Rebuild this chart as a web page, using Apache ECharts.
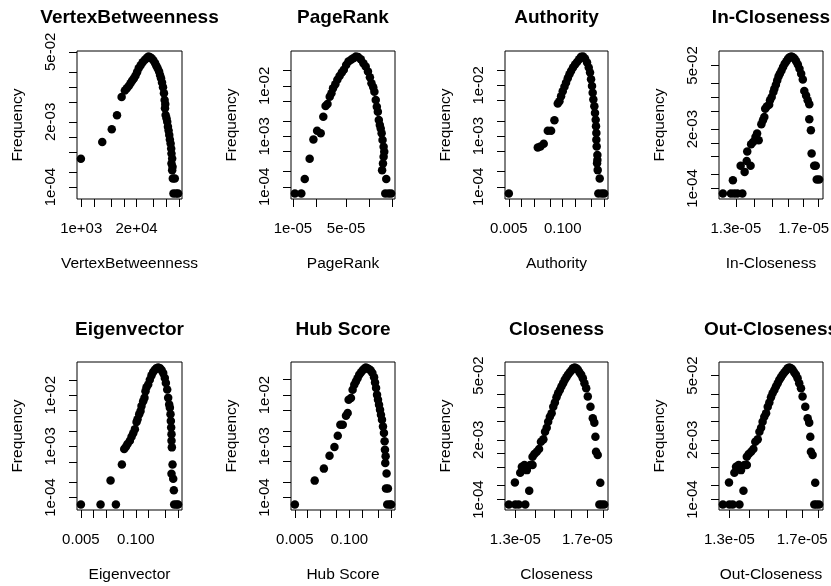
<!DOCTYPE html>
<html><head><meta charset="utf-8">
<script src="https://cdn.jsdelivr.net/npm/echarts@6/dist/echarts.min.js"></script>
<style>html,body{margin:0;padding:0;background:#fff}#c{width:831px;height:586px}</style>
</head><body><div id="c"></div>
<script>
// ---------- data (value, frequency) ----------
const vertexBetweenness = [[982,3.68e-4],[3120,7.93e-4],[5220,1.42e-3],[6930,2.71e-3],[8890,6.30e-3],[10600,8.43e-3],[11800,9.38e-3],[13100,1.04e-2],[14400,1.18e-2],[15700,1.32e-2],[17200,1.47e-2],[18800,1.66e-2],[20500,1.96e-2],[22400,2.36e-2],[24900,2.71e-2],[27700,3.11e-2],[31400,3.46e-2],[34900,3.79e-2],[38200,4.04e-2],[41700,3.91e-2],[45600,3.68e-2],[49900,3.36e-2],[54500,2.97e-2],[58500,2.62e-2],[62800,2.32e-2],[67500,2.02e-2],[71100,1.73e-2],[75000,1.49e-2],[79100,1.22e-2],[83400,9.82e-3],[87900,7.45e-3],[91200,5.48e-3],[94400,4.56e-3],[92900,3.73e-3],[96200,2.75e-3],[101000,2.36e-3],[105000,2.02e-3],[109000,1.61e-3],[113000,1.34e-3],[117000,1.09e-3],[121000,8.95e-4],[126000,7.45e-4],[130000,5.92e-4],[132000,4.70e-4],[137000,3.73e-4],[132000,2.97e-4],[140000,2.55e-4],[137000,2.18e-4],[142000,1.49e-4],[158000,1.49e-4],[147000,7.45e-5],[170000,7.45e-5],[189000,7.45e-5]];

const pageRank = [[1.06e-5,7.4e-5],[1.29e-5,7.4e-5],[1.43e-5,1.44e-4],[1.66e-5,3.60e-4],[1.86e-5,8.71e-4],[2.08e-5,1.30e-3],[2.32e-5,1.15e-3],[2.51e-5,2.46e-3],[2.69e-5,4.01e-3],[2.85e-5,4.39e-3],[3.05e-5,6.14e-3],[3.21e-5,7.15e-3],[3.37e-5,8.99e-3],[3.61e-5,1.08e-2],[3.84e-5,1.32e-2],[4.11e-5,1.58e-2],[4.40e-5,1.84e-2],[4.67e-5,2.08e-2],[5.01e-5,2.61e-2],[5.37e-5,3.04e-2],[5.81e-5,3.29e-2],[6.22e-5,3.55e-2],[6.73e-5,3.83e-2],[7.21e-5,3.72e-2],[7.81e-5,3.39e-2],[8.45e-5,2.82e-2],[9.06e-5,2.42e-2],[9.71e-5,1.93e-2],[1.03e-4,1.49e-2],[1.08e-4,1.13e-2],[1.14e-4,9.42e-3],[1.18e-4,7.71e-3],[1.23e-4,5.27e-3],[1.27e-4,3.88e-3],[1.31e-4,3.09e-3],[1.35e-4,2.11e-3],[1.39e-4,1.68e-3],[1.43e-4,1.44e-3],[1.47e-4,1.15e-3],[1.51e-4,8.45e-4],[1.56e-4,6.24e-4],[1.59e-4,4.96e-4],[1.56e-4,3.94e-4],[1.53e-4,2.91e-4],[1.49e-4,2.14e-4],[1.69e-4,1.44e-4],[1.64e-4,7.4e-5],[1.81e-4,7.4e-5],[1.96e-4,7.4e-5]];

const authority = [[0.005,7.4e-5],[0.025,5.96e-4],[0.029,6.24e-4],[0.0348,7.05e-4],[0.0436,1.28e-3],[0.0524,1.28e-3],[0.063,2.05e-3],[0.0759,4.39e-3],[0.0832,4.89e-3],[0.0912,6.14e-3],[0.100,7.71e-3],[0.110,9.42e-3],[0.120,1.13e-2],[0.132,1.38e-2],[0.145,1.66e-2],[0.159,1.93e-2],[0.177,2.25e-2],[0.198,2.58e-2],[0.222,2.91e-2],[0.248,3.29e-2],[0.277,3.66e-2],[0.309,3.72e-2],[0.345,3.39e-2],[0.386,2.82e-2],[0.424,2.25e-2],[0.456,1.79e-2],[0.482,1.32e-2],[0.509,9.71e-3],[0.528,7.15e-3],[0.548,5.27e-3],[0.579,3.88e-3],[0.601,2.86e-3],[0.624,2.11e-3],[0.635,1.56e-3],[0.647,1.15e-3],[0.647,8.45e-4],[0.659,6.24e-4],[0.685,4.26e-4],[0.685,3.39e-4],[0.673,2.91e-4],[0.698,2.14e-4],[0.780,1.47e-4],[0.724,7.4e-5],[0.871,7.4e-5],[1.0,7.4e-5]];

const inCloseness = [[1.235e-5,7.74e-5],[1.275e-5,7.74e-5],[1.292e-5,7.74e-5],[1.308e-5,7.74e-5],[1.334e-5,7.74e-5],[1.285e-5,1.52e-4],[1.325e-5,3.13e-4],[1.346e-5,2.31e-4],[1.357e-5,4.02e-4],[1.378e-5,3.13e-4],[1.360e-5,6.5e-4],[1.381e-5,9.31e-4],[1.392e-5,1.05e-3],[1.405e-5,1.35e-3],[1.414e-5,1.60e-3],[1.423e-5,1.14e-3],[1.438e-5,2.55e-3],[1.447e-5,3.13e-3],[1.455e-5,3.70e-3],[1.460e-5,5.62e-3],[1.469e-5,6.32e-3],[1.483e-5,6.89e-3],[1.488e-5,8.57e-3],[1.498e-5,1.01e-2],[1.508e-5,1.30e-2],[1.514e-5,1.54e-2],[1.523e-5,1.89e-2],[1.531e-5,2.35e-2],[1.539e-5,2.87e-2],[1.547e-5,3.29e-2],[1.557e-5,3.89e-2],[1.567e-5,4.60e-2],[1.577e-5,5.43e-2],[1.588e-5,6.22e-2],[1.598e-5,7.00e-2],[1.608e-5,7.60e-2],[1.619e-5,7.87e-2],[1.629e-5,7.60e-2],[1.640e-5,7.00e-2],[1.650e-5,6.22e-2],[1.661e-5,5.26e-2],[1.672e-5,4.23e-2],[1.683e-5,3.29e-2],[1.694e-5,2.47e-2],[1.704e-5,1.37e-2],[1.716e-5,1.10e-2],[1.727e-5,8.57e-3],[1.738e-5,7.00e-3],[1.738e-5,3.29e-3],[1.749e-5,1.89e-3],[1.754e-5,5.82e-4],[1.772e-5,3.13e-4],[1.783e-5,3.13e-4],[1.790e-5,1.57e-4],[1.807e-5,1.57e-4]];

const eigenvector = [[0.005,7.32e-5],[0.0146,7.32e-5],[0.0337,7.32e-5],[0.0252,2.16e-4],[0.0467,4.42e-4],[0.0530,8.87e-4],[0.0581,9.86e-4],[0.0635,1.11e-3],[0.0721,1.29e-3],[0.0791,1.54e-3],[0.0865,1.81e-3],[0.0948,2.16e-3],[0.1038,3.00e-3],[0.1096,3.38e-3],[0.120,4.23e-3],[0.129,4.90e-3],[0.136,6.12e-3],[0.149,7.66e-3],[0.160,8.87e-3],[0.169,1.19e-2],[0.179,1.43e-2],[0.196,1.61e-2],[0.214,2.01e-2],[0.235,2.44e-2],[0.257,2.83e-2],[0.282,3.14e-2],[0.308,3.38e-2],[0.338,3.48e-2],[0.370,3.38e-2],[0.406,3.09e-2],[0.444,2.70e-2],[0.485,2.16e-2],[0.513,1.73e-2],[0.552,1.29e-2],[0.582,8.87e-3],[0.615,6.59e-3],[0.638,5.69e-3],[0.661,4.23e-3],[0.673,3.14e-3],[0.685,2.33e-3],[0.698,1.73e-3],[0.698,1.29e-3],[0.711,9.57e-4],[0.738,4.42e-4],[0.698,2.92e-4],[0.766,2.33e-4],[0.793,1.39e-4],[0.807,7.32e-5],[0.917,7.32e-5],[1.0,7.32e-5]];

const hubScore = [[0.005,7.31e-5],[0.0149,2.14e-4],[0.0247,3.67e-4],[0.0337,6.58e-4],[0.0442,9.70e-4],[0.0530,1.61e-3],[0.0612,2.64e-3],[0.0697,2.64e-3],[0.0834,3.96e-3],[0.0914,4.46e-3],[0.0964,8.11e-3],[0.1096,8.75e-3],[0.120,1.27e-2],[0.1315,1.59e-2],[0.1439,1.85e-2],[0.1574,2.14e-2],[0.1726,2.49e-2],[0.1888,2.77e-2],[0.207,3.03e-2],[0.2265,3.26e-2],[0.248,3.46e-2],[0.2716,3.36e-2],[0.297,3.21e-2],[0.326,3.03e-2],[0.356,2.69e-2],[0.391,2.24e-2],[0.412,1.77e-2],[0.436,1.37e-2],[0.460,1.01e-2],[0.485,8.11e-3],[0.513,6.48e-3],[0.542,5.18e-3],[0.571,4.14e-3],[0.604,3.31e-3],[0.638,2.45e-3],[0.673,1.82e-3],[0.698,1.25e-3],[0.711,8.61e-4],[0.738,6.38e-4],[0.724,4.73e-4],[0.778,2.94e-4],[0.752,1.50e-4],[0.837,1.50e-4],[0.807,7.31e-5],[0.933,7.31e-5],[1.0,7.31e-5]];

const closeness = [[1.269e-5,7.8e-5],[1.300e-5,7.8e-5],[1.316e-5,7.8e-5],[1.349e-5,7.8e-5],[1.298e-5,2.35e-4],[1.369e-5,1.55e-4],[1.324e-5,3.83e-4],[1.332e-5,5.18e-4],[1.345e-5,5.62e-4],[1.357e-5,4.37e-4],[1.374e-5,5.62e-4],[1.386e-5,5.62e-4],[1.386e-5,8.55e-4],[1.396e-5,9.77e-4],[1.408e-5,1.10e-3],[1.420e-5,1.26e-3],[1.430e-5,1.82e-3],[1.443e-5,2.04e-3],[1.452e-5,3.00e-3],[1.461e-5,3.66e-3],[1.469e-5,4.96e-3],[1.478e-5,6.37e-3],[1.488e-5,7.53e-3],[1.497e-5,1.05e-2],[1.506e-5,1.29e-2],[1.515e-5,1.68e-2],[1.524e-5,2.06e-2],[1.534e-5,2.43e-2],[1.543e-5,2.88e-2],[1.553e-5,3.40e-2],[1.562e-5,4.02e-2],[1.572e-5,4.60e-2],[1.581e-5,5.18e-2],[1.591e-5,5.81e-2],[1.601e-5,6.43e-2],[1.611e-5,7.23e-2],[1.621e-5,7.48e-2],[1.631e-5,7.23e-2],[1.641e-5,6.65e-2],[1.651e-5,5.81e-2],[1.661e-5,5.18e-2],[1.671e-5,4.38e-2],[1.681e-5,3.40e-2],[1.692e-5,2.65e-2],[1.702e-5,1.74e-2],[1.719e-5,1.05e-2],[1.734e-5,5.86e-3],[1.744e-5,4.72e-3],[1.751e-5,2.33e-3],[1.755e-5,1.10e-3],[1.766e-5,9.29e-4],[1.783e-5,2.31e-4],[1.777e-5,7.8e-5],[1.792e-5,7.8e-5],[1.809e-5,7.8e-5]];

const outCloseness = [[1.269e-5,7.8e-5],[1.300e-5,7.8e-5],[1.316e-5,7.8e-5],[1.349e-5,7.8e-5],[1.298e-5,2.35e-4],[1.369e-5,1.55e-4],[1.324e-5,3.83e-4],[1.332e-5,5.18e-4],[1.345e-5,5.62e-4],[1.357e-5,4.37e-4],[1.374e-5,5.62e-4],[1.386e-5,5.62e-4],[1.386e-5,8.55e-4],[1.396e-5,9.77e-4],[1.408e-5,1.10e-3],[1.420e-5,1.26e-3],[1.430e-5,1.82e-3],[1.443e-5,2.04e-3],[1.452e-5,3.00e-3],[1.461e-5,3.66e-3],[1.469e-5,4.96e-3],[1.478e-5,6.37e-3],[1.488e-5,7.53e-3],[1.497e-5,1.05e-2],[1.506e-5,1.29e-2],[1.515e-5,1.68e-2],[1.524e-5,2.06e-2],[1.534e-5,2.43e-2],[1.543e-5,2.88e-2],[1.553e-5,3.40e-2],[1.562e-5,4.02e-2],[1.572e-5,4.60e-2],[1.581e-5,5.18e-2],[1.591e-5,5.81e-2],[1.601e-5,6.43e-2],[1.611e-5,7.23e-2],[1.621e-5,7.48e-2],[1.631e-5,7.23e-2],[1.641e-5,6.65e-2],[1.651e-5,5.81e-2],[1.661e-5,5.18e-2],[1.671e-5,4.38e-2],[1.681e-5,3.40e-2],[1.692e-5,2.65e-2],[1.702e-5,1.74e-2],[1.719e-5,1.05e-2],[1.734e-5,5.86e-3],[1.744e-5,4.72e-3],[1.751e-5,2.33e-3],[1.755e-5,1.10e-3],[1.766e-5,9.29e-4],[1.783e-5,2.31e-4],[1.777e-5,7.8e-5],[1.792e-5,7.8e-5],[1.809e-5,7.8e-5]];

// ---------- titles & tick labels ----------
const panelTitles = ['VertexBetweenness','PageRank','Authority','In-Closeness','Eigenvector','Hub Score','Closeness','Out-Closeness'];
const yAxisTitle = 'Frequency';

const freqTicks = [1e-4,2e-4,5e-4,1e-3,2e-3,5e-3,1e-2,2e-2,5e-2];
const freqLabelValuesA = [1e-4,2e-3,5e-2];
const freqLabelTextA = ['1e-04','2e-03','5e-02'];
const freqLabelValuesB = [1e-4,1e-3,1e-2];
const freqLabelTextB = ['1e-04','1e-03','1e-02'];

const betweenTicks = [1e3,2e3,5e3,1e4,2e4,5e4,1e5,2e5];
const betweenLabelValues = [1e3,2e4];
const betweenLabelText = ['1e+03','2e+04'];
const rankTicks = [1e-5,2e-5,5e-5,1e-4,2e-4];
const rankLabelValues = [1e-5,5e-5];
const rankLabelText = ['1e-05','5e-05'];
const scoreTicks = [0.005,0.01,0.02,0.05,0.1,0.2,0.5,1];
const scoreLabelValues = [0.005,0.1];
const scoreLabelText = ['0.005','0.100'];
const closeTicks = [1.3e-5,1.4e-5,1.5e-5,1.6e-5,1.7e-5,1.8e-5];
const closeLabelValues = [1.3e-5,1.7e-5];
const closeLabelText = ['1.3e-05','1.7e-05'];

// ---------- build ----------
const panels = [
  {d: vertexBetweenness, xt: betweenTicks, xv: betweenLabelValues, xs: betweenLabelText, yv: freqLabelValuesA, ys: freqLabelTextA},
  {d: pageRank, xt: rankTicks, xv: rankLabelValues, xs: rankLabelText, yv: freqLabelValuesB, ys: freqLabelTextB},
  {d: authority, xt: scoreTicks, xv: scoreLabelValues, xs: scoreLabelText, yv: freqLabelValuesB, ys: freqLabelTextB},
  {d: inCloseness, xt: closeTicks, xv: closeLabelValues, xs: closeLabelText, yv: freqLabelValuesA, ys: freqLabelTextA},
  {d: eigenvector, xt: scoreTicks, xv: scoreLabelValues, xs: scoreLabelText, yv: freqLabelValuesB, ys: freqLabelTextB},
  {d: hubScore, xt: scoreTicks, xv: scoreLabelValues, xs: scoreLabelText, yv: freqLabelValuesB, ys: freqLabelTextB},
  {d: closeness, xt: closeTicks, xv: closeLabelValues, xs: closeLabelText, yv: freqLabelValuesA, ys: freqLabelTextA},
  {d: outCloseness, xt: closeTicks, xv: closeLabelValues, xs: closeLabelText, yv: freqLabelValuesA, ys: freqLabelTextA}
];

const FONT = "'Liberation Sans', Arial, sans-serif";
const colLeft = [77, 291, 505, 719];
const colWidth = [105, 104, 103, 104];
const rowTop = [51, 362];
const boxH = 148;

// R-style range: data range widened by 4% on each side (log space)
function logRange(vals) {
  let lo = Math.log10(Math.min(...vals)), hi = Math.log10(Math.max(...vals));
  const e = (hi - lo) * 0.04;
  return [Math.pow(10, lo - e), Math.pow(10, hi + e)];
}
function labeler(vals, txt) {
  return function (v) {
    for (let i = 0; i < vals.length; i++) {
      if (Math.abs(Math.log10(v) - Math.log10(vals[i])) < 1e-6) return txt[i];
    }
    return '';
  };
}
const inside = (ticks, r) => ticks.filter(t => t >= r[0] * 0.999999 && t <= r[1] * 1.000001);

const grid = [], xAxis = [], yAxis = [], series = [], title = [];
panels.forEach((p, i) => {
  const col = i % 4, row = Math.floor(i / 4);
  const xr = logRange(p.d.map(a => a[0]));
  const yr = logRange(p.d.map(a => a[1]));
  grid.push({left: colLeft[col], top: rowTop[row], width: colWidth[col], height: boxH,
    show: true, borderColor: '#000', borderWidth: 1, backgroundColor: 'transparent',
    containLabel: false, outerBoundsMode: 'none'});
  title.push({text: panelTitles[i], left: colLeft[col] + colWidth[col] / 2, top: row === 0 ? 8 : 320,
    textAlign: 'center', padding: 0,
    textStyle: {fontFamily: FONT, fontSize: 19, fontWeight: 'bold', color: '#000'}});
  xAxis.push({type: 'log', logBase: 10, gridIndex: i, min: xr[0], max: xr[1],
    name: panelTitles[i], nameLocation: 'middle', nameGap: 57,
    nameTextStyle: {fontFamily: FONT, fontSize: 15.5, color: '#000'},
    axisLine: {show: false}, splitLine: {show: false}, minorTick: {show: false},
    axisTick: {show: true, inside: false, length: 8, lineStyle: {color: '#000', width: 1}, customValues: inside(p.xt, xr)},
    axisLabel: {customValues: inside(p.xv, xr), formatter: labeler(p.xv, p.xs), margin: 22,
      fontFamily: FONT, fontSize: 15, color: '#000'}});
  yAxis.push({type: 'log', logBase: 10, gridIndex: i, min: yr[0], max: yr[1],
    name: yAxisTitle, nameLocation: 'middle', nameGap: 51,
    nameTextStyle: {fontFamily: FONT, fontSize: 15.5, color: '#000'},
    axisLine: {show: false}, splitLine: {show: false}, minorTick: {show: false},
    axisTick: {show: true, inside: false, length: 8, lineStyle: {color: '#000', width: 1}, customValues: inside(freqTicks, yr)},
    axisLabel: {customValues: inside(p.yv, yr), formatter: labeler(p.yv, p.ys), rotate: 90, margin: 19,
      fontFamily: FONT, fontSize: 15, color: '#000'}});
  series.push({type: 'scatter', xAxisIndex: i, yAxisIndex: i, data: p.d, symbol: 'circle', symbolSize: 8.5,
    itemStyle: {color: '#000', opacity: 1}, silent: true, clip: false});
});

const chart = echarts.init(document.getElementById('c'), null, {renderer: 'canvas'});
chart.setOption({animation: false, backgroundColor: '#fff', title, grid, xAxis, yAxis, series});
</script></body></html>
